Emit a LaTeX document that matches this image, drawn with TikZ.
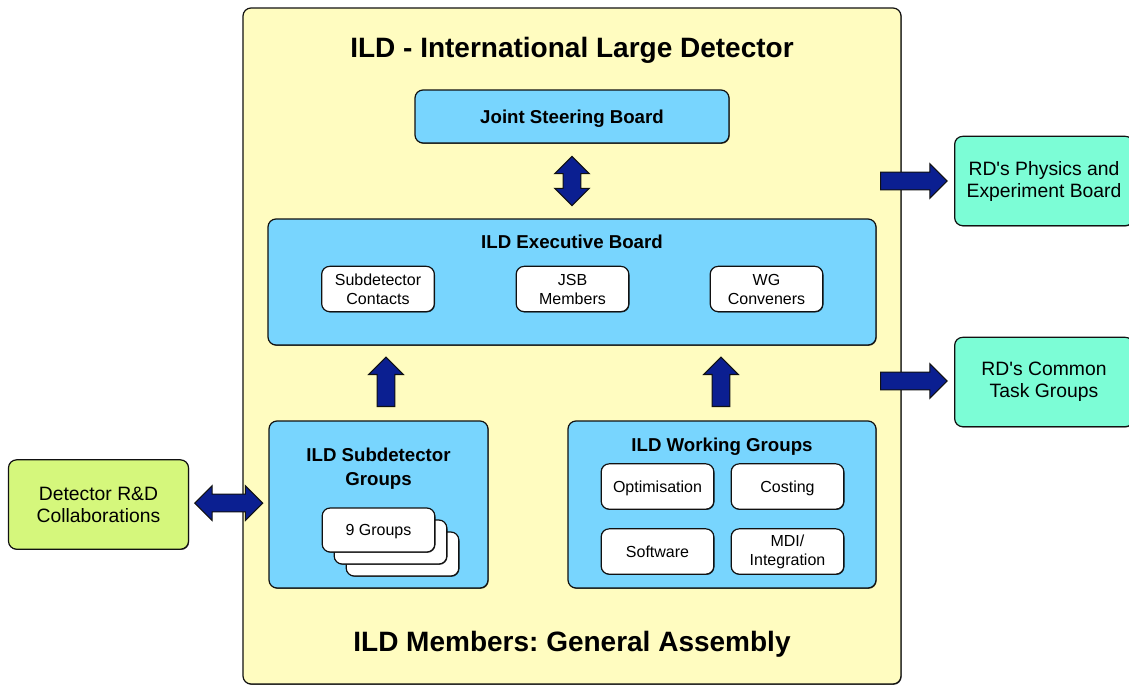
\documentclass[tikz,border=0pt]{standalone}
\usepackage{fontspec}
\setmainfont{Liberation Sans}
\usepackage{xcolor}
\usepackage{tikz}
\usetikzlibrary{arrows.meta,positioning,calc,shapes.arrows,shadows}
\definecolor{ink}{HTML}{111111}
\definecolor{softyellow}{HTML}{FFFCC0}
\definecolor{skyblue}{HTML}{78D5FE}
\definecolor{limegreen}{HTML}{D5F77C}
\definecolor{aqua}{HTML}{7CFDD6}
\definecolor{navy}{HTML}{0B1F91}
\frenchspacing

\begin{document}
\begin{tikzpicture}[
  x=0.75pt, y=-0.75pt,
  box/.style={rounded corners=6pt, draw=ink, line width=0.9pt, align=center, inner sep=0pt,
    drop shadow={shadow xshift=0.5pt, shadow yshift=-0.6pt, opacity=0.7, fill=black}},
  mainbox/.style={box, fill=softyellow},
  bluebox/.style={box, fill=skyblue},
  whitebox/.style={box, fill=white, font=\fontsize{12}{14.25}\selectfont, minimum width=84.5pt, minimum height=34pt},
  oneline/.style={text height=8.6pt, text depth=0pt},
  outerbox/.style={box, font=\fontsize{14.5}{16.5}\selectfont, minimum width=135pt, minimum height=67pt},
  bigtitle/.style={font=\bfseries\fontsize{21}{25}\selectfont},
  boxtitle/.style={font=\bfseries\fontsize{14}{18}\selectfont, align=center},
  uparrow/.style={single arrow, draw=ink, fill=navy, line width=0.8pt, inner sep=6.3pt,
    minimum height=37pt, single arrow head extend=6.3pt, shape border rotate=90, anchor=tail},
  rightarrow/.style={uparrow, shape border rotate=0, minimum height=50pt},
  bothways/.style={double arrow, draw=ink, fill=navy, line width=0.8pt, inner sep=6.3pt,
    minimum height=37pt, double arrow head extend=6.3pt, shape border rotate=90}
]
\clip (0,0) rectangle (1129,686);

\node[mainbox, minimum width=493.5pt, minimum height=507pt] (ild) at (572,346) {};
\node[bigtitle] (title) at (572,50) {ILD - International Large Detector};
\node[bigtitle] (ga) at (572,644.5) {ILD Members: General Assembly};

\node[bluebox, boxtitle, text height=10pt, text depth=0pt, minimum width=235.5pt, minimum height=39.75pt] (jsb) at (572,116.5) {Joint Steering Board};

\node[bluebox, minimum width=456pt, minimum height=94.5pt] (exec) at (572,282) {};
\node[boxtitle] (exectitle) at (572,242) {ILD Executive Board};
\node[whitebox] (contacts) at (378,289) {Subdetector\\Contacts};
\node[whitebox] (members) at (572.5,289) {JSB\\Members};
\node[whitebox] (conveners) at (766.5,289) {WG\\Conveners};

\node[bluebox, minimum width=164.25pt, minimum height=125.25pt] (subdet) at (378.5,504.5) {};
\node[boxtitle] (subdettitle) at (378.5,469) {ILD Subdetector\\Groups};
\node[whitebox, minimum height=33pt] (g3) at (402.5,554) {};
\node[whitebox, minimum height=33pt] (g2) at (390.5,542) {};
\node[whitebox, oneline, minimum height=33pt] (g1) at (378.5,530) {9 Groups};

\node[bluebox, minimum width=231pt, minimum height=125.25pt] (wg) at (722,504.5) {};
\node[boxtitle] (wgtitle) at (722,446.5) {ILD Working Groups};
\node[whitebox, oneline] (optim) at (657.5,486.5) {Optimisation};
\node[whitebox, oneline] (costing) at (787.5,486.5) {Costing};
\node[whitebox, oneline] (software) at (657.5,551.5) {Software};
\node[whitebox] (mdi) at (787.5,551.5) {MDI/\\Integration};

\node[outerbox, fill=limegreen] (detrd) at (98.5,504.5) {Detector R\&D\\Collaborations};
\node[outerbox, fill=aqua, minimum width=134pt] (peb) at (1044,181) {RD\textquotesingle s Physics and\\Experiment Board};
\node[outerbox, fill=aqua, minimum width=134pt] (ctg) at (1044,382) {RD\textquotesingle s Common\\Task Groups};

\node[bothways] (a1) at ($(jsb.south)!0.5!(exec.north)$) {};
\node[uparrow] (a2) at (386,407) {};
\node[uparrow] (a3) at (721,407) {};
\node[bothways, shape border rotate=0, minimum height=51pt] (a4) at ($(detrd.east)!0.5!(subdet.west)+(0,-1.5)$) {};
\node[rightarrow] (a5) at (880,181) {};
\node[rightarrow] (a6) at (880,381) {};

\end{tikzpicture}
\end{document}
